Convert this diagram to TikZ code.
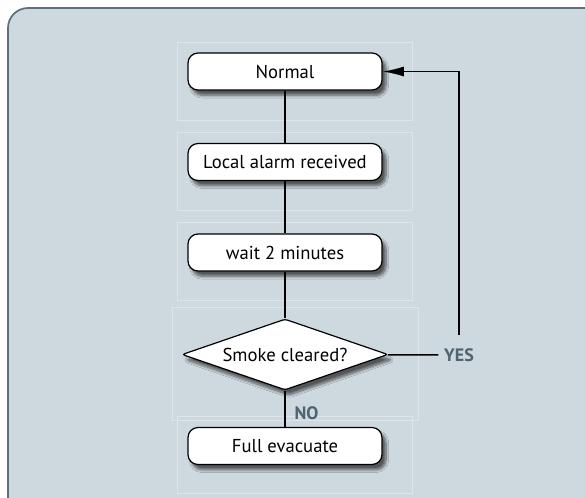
\documentclass[tikz,border=0pt]{standalone}
\usepackage{fontspec}
\setmainfont{PT Sans}
\usetikzlibrary{shapes.geometric,shadows.blur,arrows.meta}

\definecolor{panelfill}{HTML}{CDD8DF}
\definecolor{paneldraw}{HTML}{5B717E}
\definecolor{guideline}{HTML}{DDE5EA}
\definecolor{answercol}{HTML}{4E6472}

\tikzset{every picture/.style={line width=0.75pt}}
\tikzset{
  stepbox/.style={draw=black, fill=white, rounded corners=7.5pt, line width=0.9pt,
    minimum width=145.5pt, minimum height=27.75pt, inner sep=0pt,
    font=\fontsize{14}{16}\selectfont,
    blur shadow={shadow xshift=3pt, shadow yshift=-4pt, shadow blur steps=8, shadow opacity=60}},
  decision/.style={diamond, aspect=2.9, draw=black, fill=white, line width=0.9pt,
    rounded corners=2pt, minimum width=154.5pt, minimum height=53.25pt, inner sep=0pt,
    font=\fontsize{14}{16}\selectfont,
    blur shadow={shadow xshift=3pt, shadow yshift=-4pt, shadow blur steps=8, shadow opacity=60}},
  answer/.style={font=\bfseries\fontsize{13.5}{16}\selectfont, text=answercol},
  flowline/.style={line width=1.1pt},
  guidebox/.style={draw=guideline, line width=0.6pt}
}

\begin{document}
\begin{tikzpicture}[x=0.75pt,y=0.75pt,yscale=-1,xscale=1]
\useasboundingbox (0,0) rectangle (585,497);
\clip (0,0) rectangle (585,497);

%Rounded Rect [panel]
\draw [draw=paneldraw, fill=panelfill, line width=1.3pt, rounded corners=15pt] (8,8) rectangle (610,520);

%Shape: Rectangle [guides]
\draw [guidebox] (177,42) rectangle (412,120);
\draw [guidebox] (177,132) rectangle (412,210);
\draw [guidebox] (177,222) rectangle (412,300);
\draw [guidebox] (172,307) rectangle (418,420);
\draw [guidebox] (177,416) rectangle (412,493);

% Text Node
\node [stepbox] (normal) at (285,71.5) {Normal};
% Text Node
\node [stepbox] (alarm) at (285,162) {Local alarm received};
% Text Node
\node [stepbox] (wait) at (285,252.5) {wait 2 minutes};
% Text Node
\node [decision] (smoke) at (285,354.5) {Smoke cleared?};
% Text Node
\node [stepbox] (evacuate) at (285,446) {Full evacuate};
% Text Node
\node [answer, inner xsep=4pt, inner ysep=10pt] (yes) at (459,355) {YES};
% Text Node
\node [answer, anchor=west, inner sep=0pt] (no) at (294,413) {NO};

%Straight Lines
\draw [flowline] (normal) -- (alarm);
\draw [flowline] (alarm) -- (wait);
\draw [flowline] (wait) -- (smoke);
\draw [flowline] (smoke) -- (evacuate);
\draw [flowline] (smoke) -- (yes);
%Shape: Polyline
\draw [flowline, -{Latex[length=16pt,width=7.5pt]}] (yes.north) |- (normal.east);
\end{tikzpicture}
\end{document}
